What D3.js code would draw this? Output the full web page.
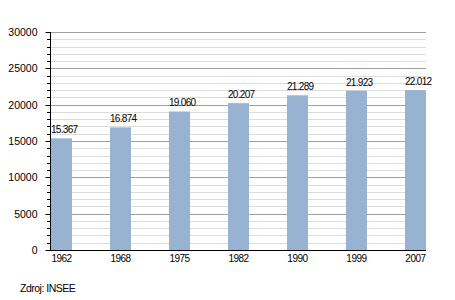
<!DOCTYPE html>
<html>
<head>
<meta charset="utf-8">
<script src="https://cdn.jsdelivr.net/npm/d3@7"></script>
<style>
  body { margin: 0; background: #fff; }
  text { font-family: "Liberation Sans", Arial, sans-serif; fill: #000; }
</style>
</head>
<body>
<div class="app"></div>
<script>
'use strict'

// data
var years = ["1962", "1968", "1975", "1982", "1990", "1999", "2007"];
var population = [15367, 16874, 19060, 20207, 21289, 21923, 22012];
var valueLabels = ["15.367", "16.874", "19.060", "20.207", "21.289", "21.923", "22.012"];
var yTicks = [0, 5000, 10000, 15000, 20000, 25000, 30000];
var source = "Zdroj: INSEE";

var W = 455, H = 300;
var plotLeft = 50, plotRight = 426, plotTop = 32, plotBottom = 250;
var FONT = "Liberation Sans, Arial, sans-serif";

var svg = d3.select(".app").append("svg")
  .attr("width", W).attr("height", H);

var x = d3.scaleBand().domain(years)
  .range([plotLeft + 1, plotRight])
  .paddingInner(0.644).paddingOuter(0);

var y = d3.scaleLinear().domain([0, 30000]).range([plotBottom, plotTop]);

function py(d) { return Math.round(y(d)) + 0.5; }

// minor grid every 1000
var minor = d3.range(1000, 30001, 1000).filter(function(v) { return v % 5000 !== 0; });
svg.append("g").selectAll("line").data(minor).enter().append("line")
  .attr("x1", plotLeft).attr("x2", plotRight)
  .attr("y1", py).attr("y2", py)
  .attr("stroke", "#dcdcdc").attr("stroke-width", 1);

// major grid
svg.append("g").selectAll("line").data(yTicks.slice(1)).enter().append("line")
  .attr("x1", plotLeft).attr("x2", plotRight)
  .attr("y1", py).attr("y2", py)
  .attr("stroke", "#a0a0a0").attr("stroke-width", 1);

// bars
svg.append("g").selectAll("rect").data(population).enter().append("rect")
  .attr("x", function(d, i) { return x(years[i]); })
  .attr("width", x.bandwidth())
  .attr("y", function(d) { return y(d); })
  .attr("height", function(d) { return plotBottom - y(d); })
  .attr("fill", "#98b3d1");

// value labels
svg.append("g").selectAll("text").data(population).enter().append("text")
  .attr("x", function(d, i) { return x(years[i]); })
  .attr("y", function(d) { return y(d) - 5; })
  .attr("font-size", 10)
  .attr("letter-spacing", -0.7)
  .text(function(d, i) { return valueLabels[i]; });

// y axis
var yAxis = d3.axisLeft(y).tickValues(yTicks).tickFormat(d3.format("d"))
  .tickSize(5).tickPadding(8);
var yg = svg.append("g").attr("transform", "translate(" + (plotLeft + 0.5) + ",0)").call(yAxis);
yg.select(".domain").attr("stroke", "#000").attr("d", "M0," + plotBottom + "V" + plotTop);
yg.selectAll(".tick").attr("transform", function(d) { return "translate(0," + py(d) + ")"; });
yg.selectAll("line").attr("stroke", "#000");
yg.selectAll("text").attr("font-size", 10.5).attr("font-family", FONT);

// minor ticks on y axis
svg.append("g").selectAll("line").data(minor).enter().append("line")
  .attr("x1", plotLeft - 3).attr("x2", plotLeft)
  .attr("y1", py).attr("y2", py)
  .attr("stroke", "#000");

// x axis
var xAxis = d3.axisBottom(x).tickSize(0).tickPadding(4);
var xg = svg.append("g").attr("transform", "translate(0," + (plotBottom + 0.5) + ")").call(xAxis);
xg.select(".domain").attr("stroke", "#000").attr("d", "M" + plotLeft + ",0H" + plotRight);
xg.selectAll("text").attr("font-size", 10).attr("letter-spacing", -0.5).attr("font-family", FONT);

// source
svg.append("text")
  .attr("x", 20).attr("y", 292)
  .attr("font-size", 10.5)
  .attr("letter-spacing", -0.5)
  .text(source);
</script>
</body>
</html>
